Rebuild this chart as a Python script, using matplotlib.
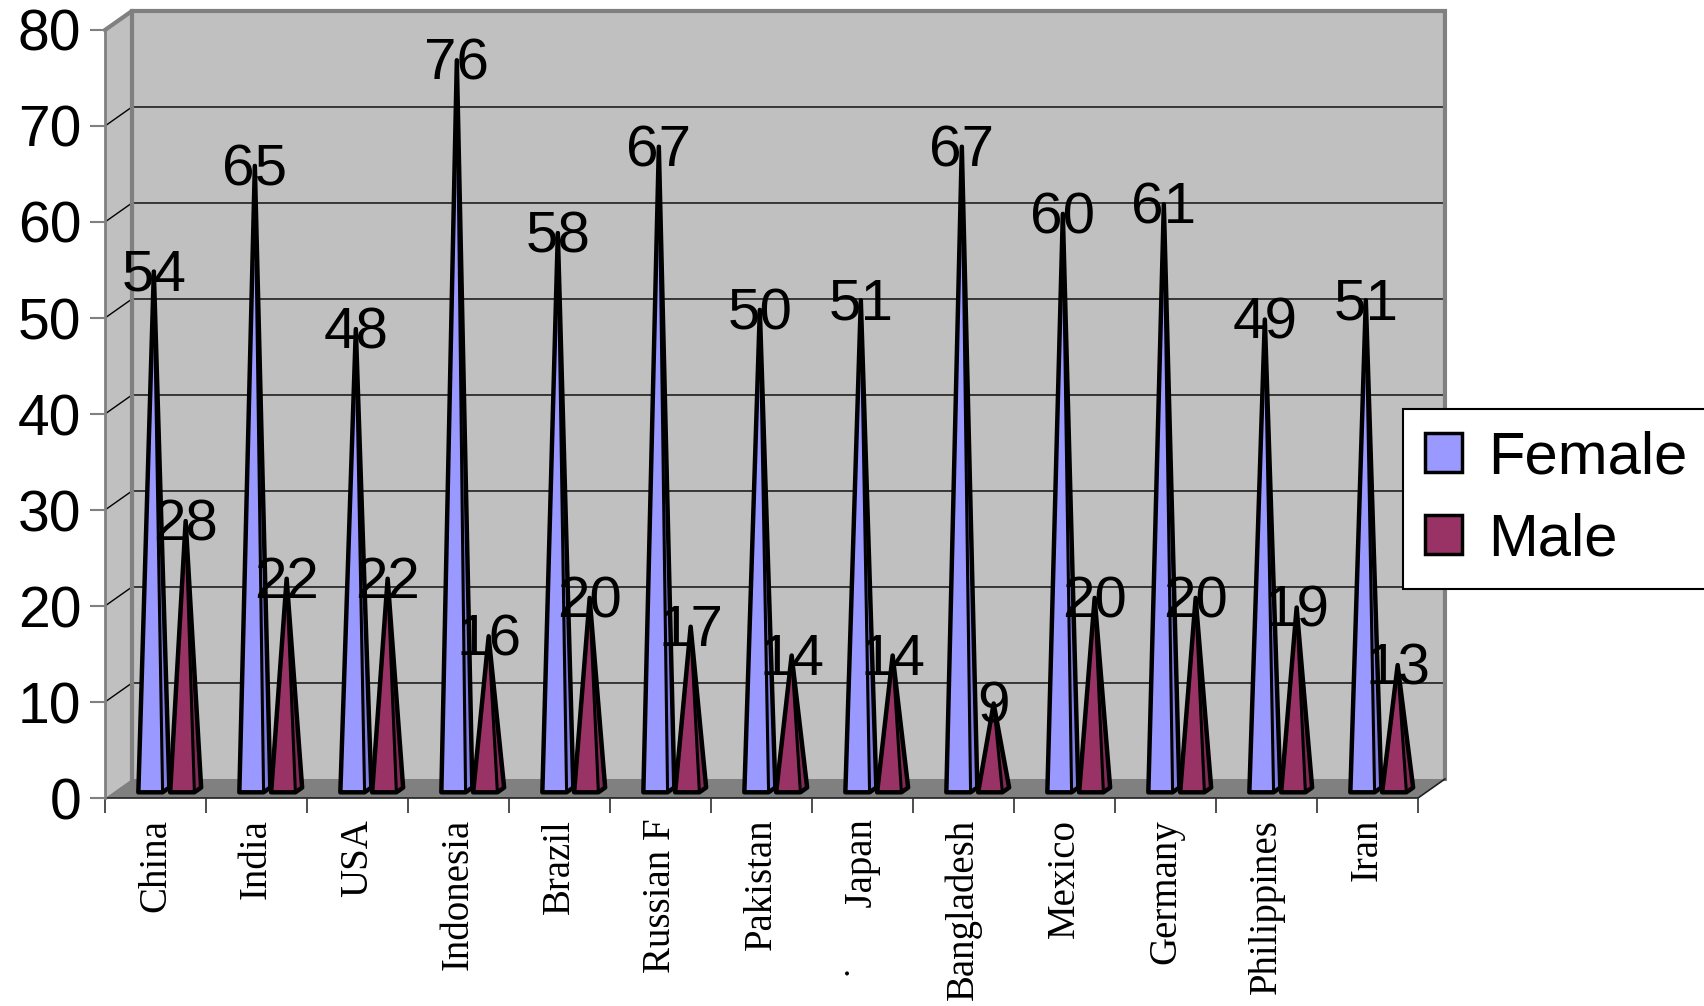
import matplotlib.pyplot as plt
from matplotlib.patches import Polygon, Patch

countries = ["China", "India", "USA", "Indonesia", "Brazil", "Russian F",
             "Pakistan", "\u02d9      Japan", "Bangladesh", "Mexico", "Germany",
             "Philippines", "Iran"]
female = [54, 65, 48, 76, 58, 67, 50, 51, 67, 60, 61, 49, 51]
male = [28, 22, 22, 16, 20, 17, 14, 14, 9, 20, 20, 19, 13]
yticks = [0, 10, 20, 30, 40, 50, 60, 70, 80]

SANS = "Liberation Sans"
SERIF = "Liberation Serif"

# oblique "3D" depth vector, in data units per full depth
DX, DY = 0.267, 1.98
N = len(countries)
YMAX = 80


def proj(x, y, d):
    return (x + d * DX, y + d * DY)


fig = plt.figure(figsize=(17.04, 10.06), dpi=100)
ax = fig.add_axes([105 / 1704, (1006 - 798) / 1006, 1313 / 1704, 768 / 1006])
ax.set_xlim(0, N)
ax.set_ylim(0, YMAX)
ax.patch.set_visible(False)

# --- walls and floor ---
back = Polygon([proj(0, 0, 1), proj(N, 0, 1), proj(N, YMAX, 1), proj(0, YMAX, 1)],
               fc="#c0c0c0", ec="none", zorder=0, clip_on=False)
side = Polygon([proj(0, 0, 0), proj(0, 0, 1), proj(0, YMAX, 1), proj(0, YMAX, 0)],
               fc="#c0c0c0", ec="none", zorder=0, clip_on=False)
floor = Polygon([proj(0, 0, 0), proj(N, 0, 0), proj(N, 0, 1), proj(0, 0, 1)],
                fc="#808080", ec="none", zorder=1, clip_on=False)
for p in (back, side, floor):
    ax.add_patch(p)

# gridlines on side + back wall
for v in yticks[1:-1]:
    pts = [proj(0, v, 0), proj(0, v, 1), proj(N, v, 1)]
    ax.plot([p[0] for p in pts], [p[1] for p in pts], color="black", lw=1,
            zorder=0.5, clip_on=False)

# wall borders
edge = [proj(0, YMAX, 0), proj(0, YMAX, 1), proj(N, YMAX, 1), proj(N, 0, 1)]
ax.plot([p[0] for p in edge], [p[1] for p in edge], color="#808080", lw=3,
        zorder=0.6, clip_on=False, solid_joinstyle="miter")
inner = [proj(0, 0, 1), proj(0, YMAX, 1)]
ax.plot([p[0] for p in inner], [p[1] for p in inner], color="#808080", lw=3,
        zorder=0.6, clip_on=False)
fr = [proj(0, 0, 0), proj(N, 0, 0), proj(N, 0, 1)]
ax.plot([p[0] for p in fr], [p[1] for p in fr], color="#202020", lw=1.2,
        zorder=1.5, clip_on=False)

# --- pyramids ---
W, D0, D1, DA = 0.12, 0.3, 0.55, 0.425
series = [(female, 0.37, "#9999ff", "#8080e6"),
          (male, 0.685, "#993366", "#842a58")]
for i in range(N):
    for vals, off, c_front, c_side in series:
        v = vals[i]
        xc = i + off
        apex = proj(xc, v, DA)
        fl, frt, br = proj(xc - W, 0, D0), proj(xc + W, 0, D0), proj(xc + W, 0, D1)
        ax.add_patch(Polygon([frt, br, apex], fc=c_side, ec="none", zorder=2,
                             clip_on=False))
        ax.add_patch(Polygon([fl, frt, apex], fc=c_front, ec="none", zorder=2,
                             clip_on=False))
        ax.add_patch(Polygon([fl, frt, br, apex], fill=False, ec="black", lw=3.2,
                             joinstyle="round", zorder=3, clip_on=False))
        ax.add_line(plt.Line2D([frt[0], apex[0]], [frt[1], apex[1]], color="black",
                               lw=2.2, zorder=3))
        ax.annotate(str(v), xy=apex, xytext=(0, -14), textcoords="offset points",
                    ha="center", va="baseline", fontsize=42, family=SANS,
                    zorder=5, annotation_clip=False)

# --- axes styling ---
for s in ("top", "right", "bottom"):
    ax.spines[s].set_visible(False)
ax.spines["left"].set_color("#808080")
ax.spines["left"].set_linewidth(2)
ax.spines["left"].set_zorder(1.6)

ax.set_yticks(yticks)
ax.set_yticklabels([str(t) for t in yticks], fontsize=41, family=SANS)
ax.tick_params(axis="y", length=11, width=1.5, color="#808080", pad=6)

ax.set_xticks(range(N + 1))
ax.set_xticklabels([])
ax.tick_params(axis="x", which="major", length=11, width=1.2, color="#303030")
ax.set_xticks([i + 0.5 for i in range(N)], minor=True)
ax.set_xticklabels(countries, minor=True, rotation=90, fontsize=28, family=SERIF)
ax.tick_params(axis="x", which="minor", length=0, pad=15)

leg = fig.legend(handles=[Patch(fc="#9999ff", ec="black", lw=2.5, label="Female"),
                          Patch(fc="#993366", ec="black", lw=2.5, label="Male")],
                 loc="upper left", bbox_to_anchor=(1403 / 1704, 1 - 409 / 1006),
                 prop={"family": SANS, "size": 43}, frameon=True, fancybox=False,
                 edgecolor="black", framealpha=1, handlelength=0.62,
                 handleheight=0.62, handletextpad=0.45, labelspacing=0.45,
                 borderpad=0.36, borderaxespad=0)
leg.get_frame().set_linewidth(1.5)

fig.savefig("out.png", dpi=100)
